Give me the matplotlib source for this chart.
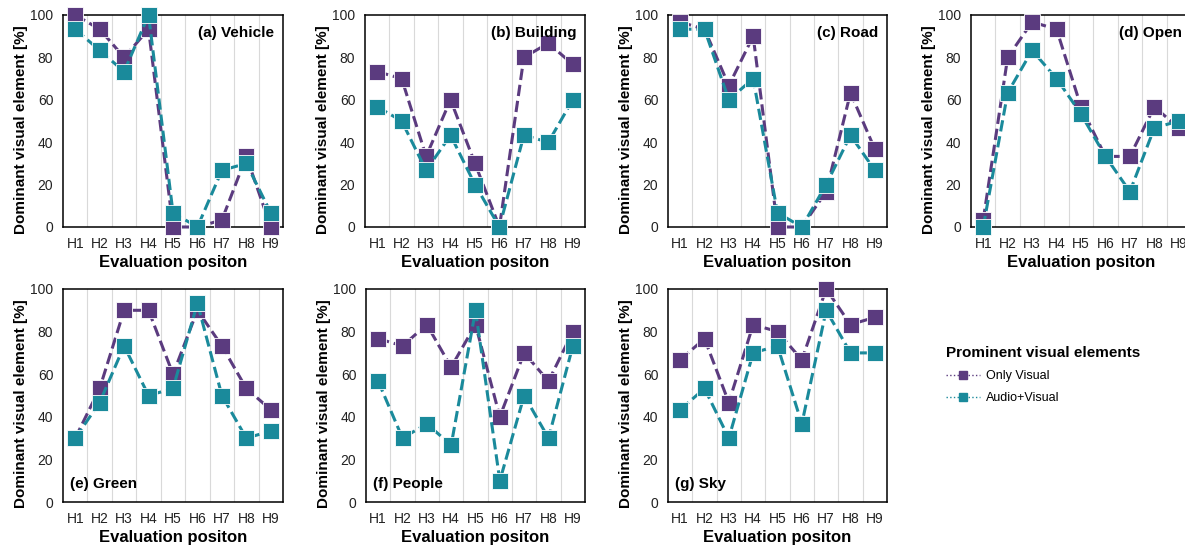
import numpy as np
import matplotlib.pyplot as plt
from matplotlib.lines import Line2D

plt.rcParams["font.family"] = ["Liberation Sans", "DejaVu Sans"]

# 数据：各评价位置的主导视觉要素占比 (%)
positions = ["H1", "H2", "H3", "H4", "H5", "H6", "H7", "H8", "H9"]
panel_titles = ["(a) Vehicle", "(b) Building", "(c) Road", "(d) Open",
                "(e) Green", "(f) People", "(g) Sky"]

vehicle_ov = [100, 93.3, 80, 93.3, 0, 0, 3.3, 33.3, 0]
vehicle_av = [93.3, 83.3, 73.3, 100, 6.7, 0, 26.7, 30, 6.7]
building_ov = [73.3, 70, 33.3, 60, 30, 0, 80, 86.7, 76.7]
building_av = [56.7, 50, 26.7, 43.3, 20, 0, 43.3, 40, 60]
road_ov = [96.7, 93.3, 66.7, 90, 0, 0, 16.7, 63.3, 36.7]
road_av = [93.3, 93.3, 60, 70, 6.7, 0, 20, 43.3, 26.7]
open_ov = [3.3, 80, 96.7, 93.3, 56.7, 33.3, 33.3, 56.7, 46.7]
open_av = [0, 63.3, 83.3, 70, 53.3, 33.3, 16.7, 46.7, 50]
green_ov = [30, 53.3, 90, 90, 60, 90, 73.3, 53.3, 43.3]
green_av = [30, 46.7, 73.3, 50, 53.3, 93.3, 50, 30, 33.3]
people_ov = [76.7, 73.3, 83.3, 63.3, 83.3, 40, 70, 56.7, 80]
people_av = [56.7, 30, 36.7, 26.7, 90, 10, 50, 30, 73.3]
sky_ov = [66.7, 76.7, 46.7, 83.3, 80, 66.7, 100, 83.3, 86.7]
sky_av = [43.3, 53.3, 30, 70, 73.3, 36.7, 90, 70, 70]

only_visual = [vehicle_ov, building_ov, road_ov, open_ov, green_ov, people_ov, sky_ov]
audio_visual = [vehicle_av, building_av, road_av, open_av, green_av, people_av, sky_av]

C_OV = "#5b3b7f"
C_AV = "#1a8a9b"

W, H = 1185, 548
fig = plt.figure(figsize=(W / 100, H / 100), dpi=100)

# 每个子图的像素位置 (left, top, right, bottom)
boxes = [
    (63, 15, 283, 227), (365, 15, 585, 227), (668, 15, 887, 227), (971, 15, 1191, 227),
    (63, 289, 283, 502), (366, 289, 585, 502), (668, 289, 887, 502),
]

x = np.arange(1, len(positions) + 1)

for i, (l, t, r, b) in enumerate(boxes):
    ax = fig.add_axes([l / W, 1 - b / H, (r - l) / W, (b - t) / H])
    for gx in np.arange(1.5, 9.5, 1):
        ax.axvline(gx, color="#d9d9d9", lw=0.8, zorder=0)
    ax.plot(x, only_visual[i], ls="--", lw=2.2, color=C_OV, marker="s", ms=11,
            mec="white", mew=0.6, zorder=3, clip_on=False)
    ax.plot(x, audio_visual[i], ls="--", lw=2.2, color=C_AV, marker="s", ms=11,
            mec="white", mew=0.6, zorder=4, clip_on=False)
    ax.set_xlim(0.5, 9.5)
    ax.set_ylim(0, 100)
    ax.set_yticks([0, 20, 40, 60, 80, 100])
    ax.set_xticks(x)
    ax.set_xticklabels(positions)
    ax.tick_params(length=0, labelsize=10, colors="#222222", pad=7)
    for s in ax.spines.values():
        s.set_color("black")
        s.set_linewidth(1.1)
    ax.set_ylabel("Dominant visual element [%]", fontsize=11, fontweight="bold")
    ax.yaxis.set_label_coords(-0.16, 0.46)
    ax.set_xlabel("Evaluation positon", fontsize=12, fontweight="bold", labelpad=3)
    if i < 4:
        ax.text(0.96, 0.95, panel_titles[i], transform=ax.transAxes, ha="right", va="top",
                fontsize=11, fontweight="bold")
    else:
        ax.text(0.03, 0.05, panel_titles[i], transform=ax.transAxes, ha="left", va="bottom",
                fontsize=11, fontweight="bold")

handles = [
    Line2D([], [], ls=":", lw=1, color=C_OV, marker="s", ms=6, label="Only Visual"),
    Line2D([], [], ls=":", lw=1, color=C_AV, marker="s", ms=6, label="Audio+Visual"),
]
leg = fig.legend(handles=handles, loc="upper left", bbox_to_anchor=(935 / W, 1 - 335 / H),
                 frameon=False, fontsize=9, title="Prominent visual elements",
                 title_fontproperties={"weight": "bold", "size": 11},
                 handlelength=2.7, handletextpad=0.5, labelspacing=0.8)
leg._legend_box.align = "left"

plt.savefig("out.png", dpi=100)
